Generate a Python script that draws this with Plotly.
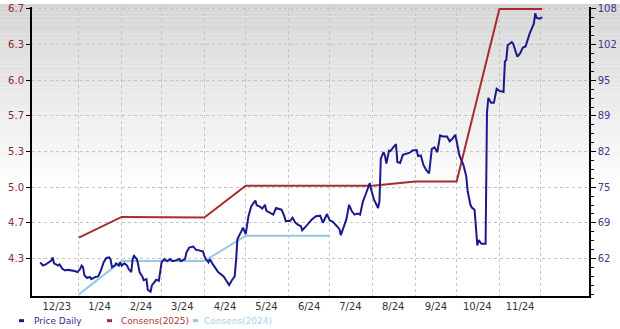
import plotly.graph_objects as go

# ---------------- data ----------------
price_dates = [
    "2023-12-04", "2023-12-06", "2023-12-08", "2023-12-10", "2023-12-12", "2023-12-13", "2023-12-14",
    "2023-12-17", "2023-12-18", "2023-12-20", "2023-12-22", "2023-12-24", "2023-12-27", "2023-12-29",
    "2023-12-31", "2024-01-02", "2024-01-03", "2024-01-04", "2024-01-05", "2024-01-07", "2024-01-09",
    "2024-01-10", "2024-01-13", "2024-01-15", "2024-01-17", "2024-01-19", "2024-01-21", "2024-01-23",
    "2024-01-24", "2024-01-25", "2024-01-27", "2024-01-28", "2024-01-30", "2024-01-31", "2024-02-01",
    "2024-02-03", "2024-02-05", "2024-02-06", "2024-02-08", "2024-02-09", "2024-02-10", "2024-02-12",
    "2024-02-13", "2024-02-14", "2024-02-16", "2024-02-17", "2024-02-19", "2024-02-20", "2024-02-22",
    "2024-02-23", "2024-02-25", "2024-02-26", "2024-02-28", "2024-02-29", "2024-03-01", "2024-03-03",
    "2024-03-05", "2024-03-07", "2024-03-09", "2024-03-12", "2024-03-14", "2024-03-15", "2024-03-18",
    "2024-03-19", "2024-03-21", "2024-03-24", "2024-03-26", "2024-03-28", "2024-03-31", "2024-04-01",
    "2024-04-02", "2024-04-04", "2024-04-05", "2024-04-07", "2024-04-11", "2024-04-15", "2024-04-17",
    "2024-04-19", "2024-04-21", "2024-04-23", "2024-04-24", "2024-04-25", "2024-04-28", "2024-04-29",
    "2024-05-01", "2024-05-03", "2024-05-05", "2024-05-08", "2024-05-09", "2024-05-11", "2024-05-13",
    "2024-05-15", "2024-05-16", "2024-05-18", "2024-05-21", "2024-05-23", "2024-05-27", "2024-05-29",
    "2024-05-30", "2024-06-02", "2024-06-04", "2024-06-06", "2024-06-08", "2024-06-10", "2024-06-11",
    "2024-06-14", "2024-06-18", "2024-06-21", "2024-06-24", "2024-06-26", "2024-06-29", "2024-07-01",
    "2024-07-03", "2024-07-06", "2024-07-08", "2024-07-09", "2024-07-10", "2024-07-13", "2024-07-15",
    "2024-07-17", "2024-07-19", "2024-07-21", "2024-07-23", "2024-07-25", "2024-07-27", "2024-07-30",
    "2024-07-31", "2024-08-02", "2024-08-05", "2024-08-06", "2024-08-07", "2024-08-09", "2024-08-10",
    "2024-08-11", "2024-08-13", "2024-08-14", "2024-08-16", "2024-08-18", "2024-08-19", "2024-08-21",
    "2024-08-23", "2024-08-25", "2024-08-28", "2024-08-30", "2024-09-02", "2024-09-03", "2024-09-05",
    "2024-09-07", "2024-09-09", "2024-09-11", "2024-09-13", "2024-09-15", "2024-09-17", "2024-09-19",
    "2024-09-21", "2024-09-24", "2024-09-26", "2024-09-28", "2024-09-30", "2024-10-01", "2024-10-03",
    "2024-10-06", "2024-10-08", "2024-10-09", "2024-10-11", "2024-10-12", "2024-10-14", "2024-10-15",
    "2024-10-16", "2024-10-17", "2024-10-19", "2024-10-22", "2024-10-23", "2024-10-24", "2024-10-26",
    "2024-10-28", "2024-10-30", "2024-11-01", "2024-11-04", "2024-11-05", "2024-11-06", "2024-11-07",
    "2024-11-10", "2024-11-11", "2024-11-14", "2024-11-16", "2024-11-18", "2024-11-20", "2024-11-23",
    "2024-11-26", "2024-11-27", "2024-11-28", "2024-11-30", "2024-12-01", "2024-12-02",
]
price_vals = [
    61.3, 60.7, 60.9, 61.3, 61.6, 62.2, 61.1,
    60.7, 60.9, 60.1, 59.8, 59.9, 59.8, 59.7,
    59.5, 60.1, 60.7, 60.4, 58.9, 58.4, 58.6,
    58.2, 58.6, 58.7, 59.8, 61.3, 62.1, 62.2,
    61.8, 60.4, 60.7, 61.1, 60.7, 61.3, 60.7,
    61.1, 60.7, 60.1, 59.5, 61.9, 62.5, 61.9,
    60.9, 59.5, 58.7, 58.0, 58.2, 56.2, 55.9,
    57.1, 57.7, 58.1, 57.9, 59.5, 61.3, 61.9,
    61.5, 61.9, 61.5, 61.7, 61.9, 61.5, 61.9,
    63.1, 64.0, 64.2, 63.6, 63.5, 63.3, 62.5,
    61.9, 61.3, 61.9, 61.0, 59.5, 58.7, 58.0,
    57.1, 58.0, 58.7, 61.6, 65.6, 67.1, 67.7,
    66.5, 69.8, 71.6, 72.7, 71.8, 71.6, 71.2,
    71.9, 70.8, 70.5, 70.1, 71.3, 71.0, 69.8,
    68.9, 68.9, 69.5, 68.6, 68.2, 68.0, 67.2,
    68.0, 69.2, 69.8, 69.9, 68.6, 70.2, 69.0,
    68.8, 68.0, 67.4, 66.3, 67.1, 69.2, 71.9,
    70.7, 70.1, 70.3, 70.1, 72.5, 73.8, 75.9,
    74.7, 72.9, 71.3, 72.5, 80.4, 81.6, 81.0,
    79.5, 81.9, 81.8, 82.5, 83.1, 79.8, 79.6,
    81.1, 81.3, 81.5, 81.9, 82.0, 80.9, 81.0,
    79.2, 78.3, 77.7, 82.2, 82.5, 81.6, 84.7,
    84.5, 84.5, 83.6, 84.1, 84.8, 83.6, 81.0,
    79.2, 77.1, 74.4, 71.9, 71.4, 71.0, 67.7,
    64.4, 65.4, 64.7, 64.7, 88.9, 91.6, 90.7,
    90.7, 93.3, 92.9, 92.7, 98.3, 98.6, 101.3,
    101.9, 101.6, 99.2, 99.8, 100.9, 101.1, 103.5,
    105.3, 107.2, 106.4, 106.2, 106.3, 106.5,
]

cons2025_dates = ["2024-01-01", "2024-02-01", "2024-04-01", "2024-05-01", "2024-08-01",
                  "2024-09-01", "2024-10-01", "2024-11-01", "2024-12-02"]
cons2025_vals = [4.50, 4.70, 4.695, 5.00, 5.00, 5.04, 5.04, 6.70, 6.70]

cons2024_dates = ["2024-01-01", "2024-02-01", "2024-04-01", "2024-05-01", "2024-07-01"]
cons2024_vals = [3.955, 4.275, 4.275, 4.52, 4.52]

left_tick_text = ["4.3", "4.7", "5.0", "5.3", "5.7", "6.0", "6.3", "6.7"]
right_tick_text = ["62", "69", "75", "82", "89", "95", "102", "108"]
x_tick_text = ["12/23", "1/24", "2/24", "3/24", "4/24", "5/24", "6/24",
               "7/24", "8/24", "9/24", "10/24", "11/24"]
x_tick_dates = ["2023-12-16", "2024-01-16", "2024-02-15", "2024-03-16", "2024-04-16",
                "2024-05-16", "2024-06-16", "2024-07-16", "2024-08-16", "2024-09-16",
                "2024-10-16", "2024-11-16"]
month_grid_dates = ["2024-01-01", "2024-02-01", "2024-03-01", "2024-04-01", "2024-05-01",
                    "2024-06-01", "2024-07-01", "2024-08-01", "2024-09-01", "2024-10-01",
                    "2024-11-01", "2024-12-01"]

# ---------------- styles ----------------
C_PRICE = "#1a1a8e"
C_C25 = "#a82c2c"
C_C24 = "#96c8e0"
FONT = "DejaVu Sans"

W, H = 620, 329
L, R, T, B = 32, 31, 3, 33
PW, PH = W - L - R, H - T - B

def px_x(px):
    return (px - L) / PW

def px_y(py):
    return (H - B - py) / PH

left_step = (6.7 - 4.3) / 7
left_vals = [4.3 + k * left_step for k in range(8)]
right_step = (108 - 62) / 7
right_vals = [62 + k * right_step for k in range(8)]

# y ranges so that ticks line up on both axes
lo_k = -(H - B - T - 7 * 36.14 - 2) / 36.14  # intervals below first tick
left_range = [4.3 + lo_k * left_step, 6.7 + (2 / 36.14) * left_step]
right_range = [62 + lo_k * right_step, 108 + (2 / 36.14) * right_step]

fig = go.Figure()

fig.add_trace(go.Scatter(x=cons2024_dates, y=cons2024_vals, mode="lines",
                         line=dict(color=C_C24, width=2), name="Consens(2024)",
                         yaxis="y", showlegend=False))
fig.add_trace(go.Scatter(x=cons2025_dates, y=cons2025_vals, mode="lines",
                         line=dict(color=C_C25, width=2), name="Consens(2025)",
                         yaxis="y", showlegend=False))
fig.add_trace(go.Scatter(x=price_dates, y=price_vals, mode="lines",
                         line=dict(color=C_PRICE, width=2), name="Price Daily",
                         yaxis="y2", showlegend=False))

# background gradient (top grey fading to white)
shapes = []
n_bands = 45
grad_end = 190
for i in range(n_bands):
    y0p = grad_end * i / n_bands
    y1p = grad_end * (i + 1) / n_bands
    t = 1 - (i + 0.5) / n_bands
    g = int(round(255 - 42 * t))
    shapes.append(dict(type="rect", xref="paper", yref="paper", layer="below",
                       x0=px_x(0), x1=px_x(W), y0=px_y(y1p), y1=px_y(y0p),
                       fillcolor=f"rgb({g},{g},{g})", line=dict(width=0)))

# legend (manual, compact)
legend_items = [("Price Daily", C_PRICE, "#2e2e8e", 19, 32),
                ("Consens(2025)", C_C25, "#b03535", 107, 119),
                ("Consens(2024)", C_C24, "#a8d3e6", 193, 202)]
annotations = []
LEG_Y = 321
for label, mark_col, txt_col, dash_x, text_x in legend_items:
    shapes.append(dict(type="line", xref="paper", yref="paper", layer="above",
                       x0=px_x(dash_x), x1=px_x(dash_x + 5), y0=px_y(LEG_Y), y1=px_y(LEG_Y),
                       line=dict(color=mark_col, width=3)))
    annotations.append(dict(text=label, xref="paper", yref="paper", x=px_x(text_x),
                            y=px_y(LEG_Y), xanchor="left", yanchor="middle", showarrow=False,
                            font=dict(family=FONT, size=9, color=txt_col)))

fig.update_layout(
    width=W, height=H,
    margin=dict(l=L, r=R, t=T, b=B, pad=0),
    paper_bgcolor="white",
    plot_bgcolor="rgba(0,0,0,0)",
    showlegend=False,
    shapes=shapes,
    annotations=annotations,
    xaxis=dict(
        type="date",
        range=["2023-11-28", "2025-01-05"],
        tickmode="array", tickvals=x_tick_dates, ticktext=x_tick_text,
        showgrid=False, ticks="",
        tickfont=dict(family=FONT, size=10, color="#333333"),
        showline=True, linecolor="black", linewidth=2,
        minor=dict(tickmode="array", tickvals=month_grid_dates, showgrid=True,
                   gridcolor="#c4c4c4", griddash="dot", gridwidth=1, ticks=""),
        zeroline=False, fixedrange=True,
    ),
    yaxis=dict(
        range=left_range,
        tickmode="array", tickvals=left_vals, ticktext=left_tick_text,
        showgrid=True, gridcolor="#c4c4c4", griddash="dot", gridwidth=1,
        ticks="outside", ticklen=4, tickcolor="black", tickwidth=1,
        tickfont=dict(family=FONT, size=10, color="#8e2a2a"),
        ticklabeloverflow="allow",
        showline=True, linecolor="black", linewidth=2,
        zeroline=False,
    ),
    yaxis2=dict(
        range=right_range, overlaying="y", side="right",
        tickmode="array", tickvals=right_vals, ticktext=right_tick_text,
        showgrid=False,
        ticks="outside", ticklen=5, tickcolor="black", tickwidth=1,
        tickfont=dict(family=FONT, size=10, color="#3a3a8e"),
        ticklabeloverflow="allow",
        showline=True, linecolor="black", linewidth=1.5,
        minor=dict(tickmode="linear", tick0=62, dtick=right_step / 4,
                   ticks="outside", ticklen=3, tickcolor="black", showgrid=False),
        zeroline=False,
    ),
)

fig.write_html("out.html")
